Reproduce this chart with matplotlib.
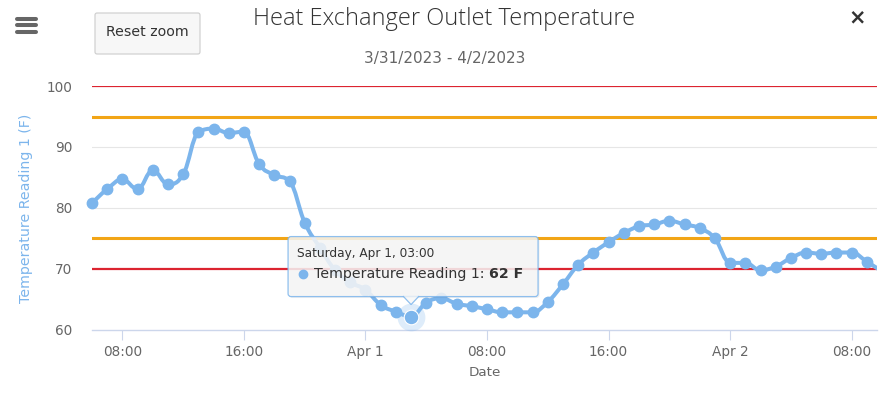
import numpy as np
import pandas as pd
import matplotlib
matplotlib.use('Agg')
import matplotlib.pyplot as plt
import matplotlib.dates as mdates
from matplotlib.path import Path
import matplotlib.patches as mpatches

# ─── DATA ─────────────────────────────────────────────────────────────────
TITLE    = "Heat Exchanger Outlet Temperature"
SUBTITLE = "3/31/2023 - 4/2/2023"
Y_TITLE  = "Temperature Reading 1 (F)"
X_TITLE  = "Date"
SERIES   = "Temperature Reading 1"

times = pd.date_range("2023-03-31 06:00", "2023-04-02 10:00", freq="h")
temps = [80.8, 83.1, 84.7, 83.1, 86.2, 83.9, 85.5, 92.4, 93.0, 92.3, 92.5, 87.2,
         85.4, 84.4, 77.6, 73.5, 69.8, 67.8, 66.6, 64.1, 63.0, 62.2, 64.5, 65.2,
         64.3, 63.9, 63.4, 62.9, 62.9, 62.9, 64.6, 67.5, 70.7, 72.7, 74.4, 75.9,
         77.0, 77.3, 77.9, 77.3, 76.7, 75.0, 71.0, 71.0, 69.8, 70.4, 71.8, 72.7,
         72.5, 72.7, 72.7, 71.2, 69.6]

red_limits    = [70, 100]
orange_limits = [75, 95]
y_ticks = [60, 70, 80, 90, 100]
x_ticks = pd.to_datetime(["2023-03-31 08:00", "2023-03-31 16:00", "2023-04-01 00:00",
                          "2023-04-01 08:00", "2023-04-01 16:00", "2023-04-02 00:00",
                          "2023-04-02 08:00"])
x_labels = ["08:00", "16:00", "Apr 1", "08:00", "16:00", "Apr 2", "08:00"]
x_range = pd.to_datetime(["2023-03-31 06:00", "2023-04-02 09:40"])
hover_time = pd.Timestamp("2023-04-01 03:00")

# ─── STYLE ────────────────────────────────────────────────────────────────
W, H = 889, 395
BLUE = '#7cb5ec'
TXT = '#666666'
plt.rcParams['font.family'] = ['DejaVu Sans']

fig = plt.figure(figsize=(W / 100, H / 100), dpi=100, facecolor='white')
L, R, T, B = 92, 877, 86, 330
ax = fig.add_axes([L / W, 1 - B / H, (R - L) / W, (B - T) / H])

xd = mdates.date2num(times.to_pydatetime())
yd = np.array(temps, dtype=float)


def spline_path(xs, ys, smoothing=1.5):
    # highcharts-style spline, built as cubic bezier segments
    n = len(xs)
    lc = [None] * n
    rc = [None] * n
    den = smoothing + 1
    for i in range(n):
        if i == 0 or i == n - 1:
            lc[i] = (xs[i], ys[i]); rc[i] = (xs[i], ys[i]); continue
        px, py = xs[i], ys[i]
        lx, ly = xs[i - 1], ys[i - 1]
        nx, ny = xs[i + 1], ys[i + 1]
        lcx = (smoothing * px + lx) / den; lcy = (smoothing * py + ly) / den
        rcx = (smoothing * px + nx) / den; rcy = (smoothing * py + ny) / den
        corr = (rcy - lcy) * (rcx - px) / (rcx - lcx) + py - rcy
        lcy += corr; rcy += corr
        if lcy > ly and lcy > py:
            lcy = max(ly, py); rcy = 2 * py - lcy
        elif lcy < ly and lcy < py:
            lcy = min(ly, py); rcy = 2 * py - lcy
        if rcy > ny and rcy > py:
            rcy = max(ny, py); lcy = 2 * py - rcy
        elif rcy < ny and rcy < py:
            rcy = min(ny, py); lcy = 2 * py - rcy
        lc[i] = (lcx, lcy); rc[i] = (rcx, rcy)
    verts = [(xs[0], ys[0])]
    codes = [Path.MOVETO]
    for i in range(1, n):
        verts += [rc[i - 1], lc[i], (xs[i], ys[i])]
        codes += [Path.CURVE4] * 3
    return Path(verts, codes)


# grid + plot lines
for v in y_ticks[1:]:
    if v not in red_limits:
        ax.axhline(v, color='#e6e6e6', lw=0.8, zorder=1)
for v in red_limits:
    ax.axhline(v, color='#dc2430', lw=1.6, zorder=2)
for v in orange_limits:
    ax.axhline(v, color='#f2a516', lw=2.2, zorder=2)

x0, x1 = mdates.date2num(x_range[0]), mdates.date2num(x_range[1])
ax.add_patch(mpatches.PathPatch(spline_path(xd, yd), fill=False, edgecolor=BLUE,
                                lw=2.9, capstyle='round', joinstyle='round', zorder=3))
inside = (xd >= x0) & (xd <= x1)
ax.plot(xd[inside], yd[inside], 'o', color=BLUE, ms=7.5, mec=BLUE, zorder=4, clip_on=False)

hi = list(times).index(hover_time)
ax.plot(xd[hi], yd[hi], 'o', color=BLUE, ms=20, alpha=0.25, mew=0, zorder=4, clip_on=False)
ax.plot(xd[hi], yd[hi], 'o', color=BLUE, ms=10.5, mec='white', mew=0.8, zorder=5, clip_on=False)

ax.set_xlim(x0, x1)
ax.set_ylim(y_ticks[0], y_ticks[-1])
ax.set_yticks(y_ticks)
ax.set_xticks(mdates.date2num(x_ticks.to_pydatetime()))
ax.set_xticklabels(x_labels)
ax.tick_params(axis='y', length=0, pad=14, labelsize=9.8, labelcolor=TXT)
ax.tick_params(axis='x', length=7.5, width=0.8, color='#ccd6eb', pad=3,
               labelsize=9.8, labelcolor=TXT)
for s in ['top', 'right', 'left']:
    ax.spines[s].set_visible(False)
ax.spines['bottom'].set_color('#ccd6eb')
ax.spines['bottom'].set_linewidth(1.0)
ax.set_xlabel(X_TITLE, color=TXT, fontsize=9.7)
ax.xaxis.set_label_coords(0.5, -(373 - B) / (B - T))
ax.xaxis.label.set_va('center')
ax.set_ylabel(Y_TITLE, color=BLUE, fontsize=10.2)
ax.yaxis.set_label_coords(-(L - 26) / (R - L), 0.5)
ax.yaxis.label.set_va('center')

# ─── CHROME (pixel overlay) ────────────────────────────────────────────────
ov = fig.add_axes([0, 0, 1, 1], facecolor='none')
ov.set_xlim(0, W); ov.set_ylim(H, 0); ov.axis('off')

fig.text(0.5, 1 - 19 / H, TITLE, ha='center', va='center', fontsize=17,
         color='#333333', fontweight='light', family=['Open Sans', 'DejaVu Sans'])
fig.text(0.5, 1 - 58 / H, SUBTITLE, ha='center', va='center', fontsize=11, color=TXT)

for yy in (18.5, 25, 31.5):
    ov.plot([17, 36], [yy, yy], color='#666666', lw=2.9, solid_capstyle='round')
ov.add_patch(mpatches.FancyBboxPatch((95, 13), 105, 41, boxstyle='round,pad=0,rounding_size=2',
                                     fc='#f7f7f7', ec='#cccccc', lw=0.8))
ov.text(147.5, 32, "Reset zoom", ha='center', va='center', fontsize=10.2, color='#333333')
ov.text(857, 17, "×", ha='center', va='center', fontsize=15, fontweight='bold', color='#333333')

# tooltip anchored on hovered point
px, py = ax.transData.transform((xd[hi], yd[hi]))
tx, ty = px, H - py - 12
bx0, bx1, by0, by1 = tx - 123, tx + 127, ty - 68, ty - 8
ov.add_patch(mpatches.FancyBboxPatch((bx0 + 1.5, by0 + 1.5), bx1 - bx0, by1 - by0,
                                     boxstyle='round,pad=0,rounding_size=3',
                                     fc='black', ec='none', alpha=0.06, zorder=9))
ov.add_patch(mpatches.FancyBboxPatch((bx0, by0), bx1 - bx0, by1 - by0,
                                     boxstyle='round,pad=0,rounding_size=3',
                                     fc='#f7f7f7', ec=BLUE, lw=0.9, alpha=0.85, zorder=10))
ov.add_patch(mpatches.Polygon([(tx - 8, by1 - 0.5), (tx, ty), (tx + 8, by1 - 0.5)],
                              closed=False, fc='#f7f7f7', ec=BLUE, lw=0.9, alpha=0.85, zorder=10))
label_time = hover_time.strftime('%A, %b ') + str(hover_time.day) + hover_time.strftime(', %H:%M')
ov.text(bx0 + 9, by0 + 17, label_time, ha='left', va='center', fontsize=8.7,
        color='#333333', zorder=11)
ov.plot(bx0 + 15, by0 + 37, 'o', color=BLUE, ms=6, zorder=11)
t1 = ov.text(bx0 + 26, by0 + 37, SERIES + ": ", ha='left', va='center', fontsize=10.2,
             color='#333333', zorder=11)
fig.canvas.draw()
bb = t1.get_window_extent(fig.canvas.get_renderer())
ov.text(bb.x1, by0 + 37, f"{round(temps[hi])} F", ha='left', va='center', fontsize=10.2,
        fontweight='bold', color='#333333', zorder=11)

fig.savefig('out.png', dpi=100, facecolor='white')
